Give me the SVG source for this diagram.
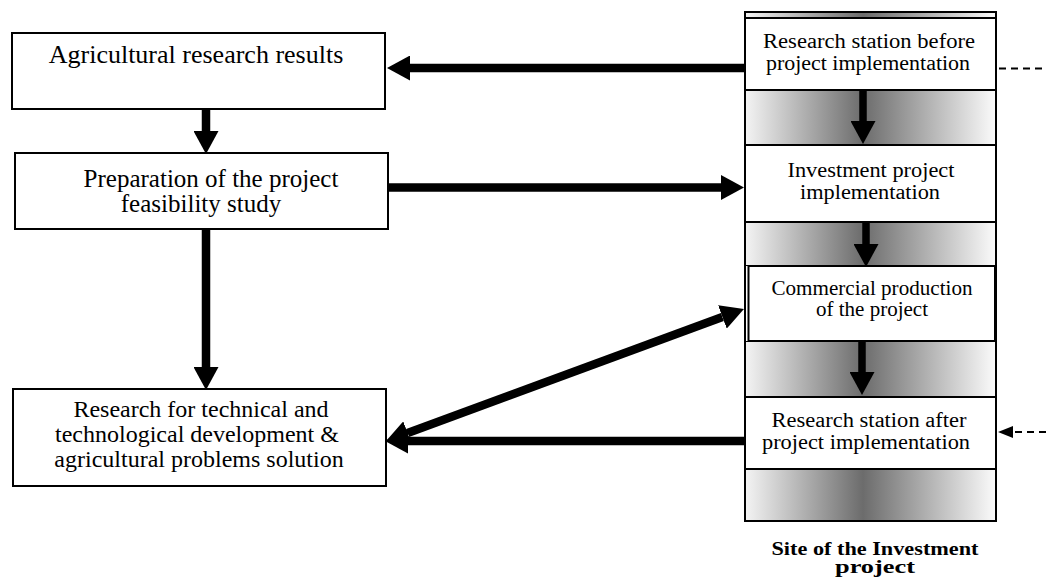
<svg xmlns="http://www.w3.org/2000/svg" width="1046" height="579" viewBox="0 0 1046 579">
  <style>
    .box { fill: #ffffff; stroke: #000000; stroke-width: 2; }
    .band { fill: url(#shade); stroke: #000000; stroke-width: 2; }
    .t { font-family: "Liberation Serif", "Times New Roman", serif; fill: #000000; text-anchor: middle; }
    .tl { font-size: 24px; }
    .tr { font-size: 20px; }
    .tb { font-size: 18.5px; font-weight: bold; }
    .arr { stroke: #000000; stroke-width: 8.5; fill: none; marker-end: url(#head); }
    .arrc { stroke: #000000; stroke-width: 7.5; fill: none; marker-end: url(#head); }
    .dash { stroke: #000000; stroke-width: 1.8; stroke-dasharray: 7 5; fill: none; }
  </style>
  <defs>
    <linearGradient id="shade" x1="0" y1="0" x2="1" y2="0">
      <stop offset="0" stop-color="#f4f4f4"/>
      <stop offset="0.47" stop-color="#6c6c6c"/>
      <stop offset="1" stop-color="#fbfbfb"/>
    </linearGradient>
    <marker id="head" markerUnits="userSpaceOnUse" markerWidth="23" markerHeight="25" refX="0" refY="12.5" orient="auto-start-reverse" viewBox="0 0 23 25">
      <path d="M0,0 L23,12.5 L0,25 Z" fill="#000000"/>
    </marker>
    <marker id="smallhead" markerUnits="userSpaceOnUse" markerWidth="15" markerHeight="12" refX="0" refY="6" orient="auto" viewBox="0 0 15 12">
      <path d="M0,0 L15,6 L0,12 Z" fill="#000000"/>
    </marker>
  </defs>

  <rect width="1046" height="579" fill="#ffffff"/>

  <g id="site-column">
    <rect class="band" x="745" y="12" width="251" height="6"/>
    <rect class="band" x="745" y="90" width="251" height="55"/>
    <rect class="band" x="745" y="222" width="251" height="44"/>
    <rect class="band" x="745" y="341" width="251" height="56"/>
    <rect class="band" x="745" y="469" width="251" height="52"/>
    <rect x="745" y="266" width="251" height="75" fill="#ffffff" stroke="none"/>
    <rect x="745" y="12" width="251" height="509" fill="none" stroke="#000000" stroke-width="2"/>
  </g>

  <g id="station-before">
    <rect class="box" x="745" y="18" width="251" height="72"/>
    <text class="t tr" x="869" y="48" textLength="212" lengthAdjust="spacingAndGlyphs">Research station before</text>
    <text class="t tr" x="868" y="70" textLength="204" lengthAdjust="spacingAndGlyphs">project implementation</text>
  </g>

  <g id="investment-implementation">
    <rect class="box" x="745" y="145" width="251" height="77"/>
    <text class="t tr" x="871" y="177" textLength="167" lengthAdjust="spacingAndGlyphs">Investment project</text>
    <text class="t tr" x="870" y="199" textLength="140" lengthAdjust="spacingAndGlyphs">implementation</text>
  </g>

  <g id="commercial-production">
    <rect class="box" x="748.5" y="266" width="246.5" height="75"/>
    <text class="t tr" x="872" y="295" textLength="201" lengthAdjust="spacingAndGlyphs">Commercial production</text>
    <text class="t tr" x="872" y="316" textLength="112" lengthAdjust="spacingAndGlyphs">of the project</text>
  </g>

  <g id="station-after">
    <rect class="box" x="745" y="397" width="251" height="72"/>
    <text class="t tr" x="869" y="427" textLength="195" lengthAdjust="spacingAndGlyphs">Research station after</text>
    <text class="t tr" x="866" y="449" textLength="208" lengthAdjust="spacingAndGlyphs">project implementation</text>
  </g>

  <g id="site-label">
    <text class="t tb" x="875" y="555" textLength="207" lengthAdjust="spacingAndGlyphs">Site of the Investment</text>
    <text class="t tb" x="875" y="573" textLength="80" lengthAdjust="spacingAndGlyphs">project</text>
  </g>

  <g id="research-results">
    <rect class="box" x="12" y="33" width="373" height="76"/>
    <text class="t" style="font-size:26px" x="196" y="63">Agricultural research results</text>
  </g>

  <g id="feasibility-study">
    <rect class="box" x="15" y="153" width="373" height="76"/>
    <text class="t" style="font-size:25px" x="211" y="187">Preparation of the project</text>
    <text class="t" style="font-size:25px" x="201" y="212">feasibility study</text>
  </g>

  <g id="technical-research">
    <rect class="box" x="13" y="389" width="373" height="97"/>
    <text class="t tl" x="201" y="417">Research for technical and</text>
    <text class="t tl" x="197" y="442">technological development &amp;</text>
    <text class="t tl" x="199" y="467">agricultural problems solution</text>
  </g>

  <g id="connectors">
    <line class="arr" x1="745" y1="68" x2="410" y2="68"/>
    <line class="arr" x1="206" y1="109" x2="206" y2="131"/>
    <line class="arr" x1="388" y1="187.5" x2="721" y2="187.5"/>
    <line class="arr" x1="206" y1="229" x2="206" y2="367"/>
    <line class="arr" x1="745" y1="441" x2="408" y2="441"/>
    <line class="arr" x1="407.6" y1="433.1" x2="722.4" y2="316.9" style="marker-start:url(#head)"/>
    <line class="arrc" x1="863" y1="90" x2="863" y2="121"/>
    <line class="arrc" x1="866" y1="222" x2="866" y2="244"/>
    <line class="arrc" x1="862" y1="341" x2="862" y2="372"/>
    <line class="dash" x1="999" y1="68.5" x2="1046" y2="68.5"/>
    <line class="dash" x1="1046" y1="432" x2="1013" y2="432" style="marker-end:url(#smallhead)"/>
  </g>
</svg>
